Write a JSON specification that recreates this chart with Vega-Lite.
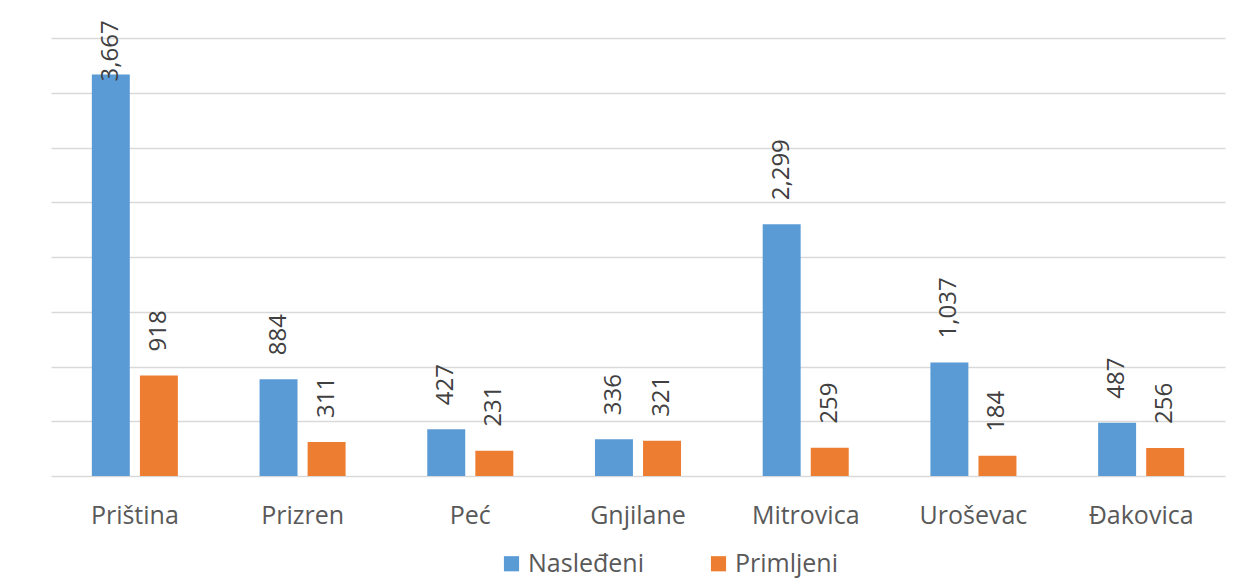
{
  "$schema": "https://vega.github.io/schema/vega-lite/v6.json",
  "width": 1174,
  "height": 438,
  "autosize": {"type": "none"},
  "padding": {"left": 51, "top": 38, "right": 29, "bottom": 106},
  "background": "white",
  "config": {
    "view": {"stroke": null},
    "font": "Open Sans"
  },
  "data": {
    "values": [
      {"city": "Priština", "series": "Nasleđeni", "v": 3667},
      {"city": "Priština", "series": "Primljeni", "v": 918},
      {"city": "Prizren", "series": "Nasleđeni", "v": 884},
      {"city": "Prizren", "series": "Primljeni", "v": 311},
      {"city": "Peć", "series": "Nasleđeni", "v": 427},
      {"city": "Peć", "series": "Primljeni", "v": 231},
      {"city": "Gnjilane", "series": "Nasleđeni", "v": 336},
      {"city": "Gnjilane", "series": "Primljeni", "v": 321},
      {"city": "Mitrovica", "series": "Nasleđeni", "v": 2299},
      {"city": "Mitrovica", "series": "Primljeni", "v": 259},
      {"city": "Uroševac", "series": "Nasleđeni", "v": 1037},
      {"city": "Uroševac", "series": "Primljeni", "v": 184},
      {"city": "Đakovica", "series": "Nasleđeni", "v": 487},
      {"city": "Đakovica", "series": "Primljeni", "v": 256}
    ]
  },
  "encoding": {
    "x": {
      "field": "city", "type": "nominal", "sort": null,
      "scale": {"paddingInner": 0.487, "paddingOuter": 0.2435},
      "axis": {"title": null, "domain": false, "ticks": false, "labelAngle": 0,
               "labelFontSize": 25, "labelColor": "#595959", "labelPadding": 27, "labelFont": "Open Sans"}
    },
    "xOffset": {"field": "series", "type": "nominal", "scale": {"paddingInner": 0.21, "paddingOuter": 0}},
    "y": {
      "field": "v", "type": "quantitative",
      "scale": {"domain": [0, 4000], "nice": false},
      "axis": {"title": null, "labels": false, "ticks": false, "domain": false,
               "values": [0, 500, 1000, 1500, 2000, 2500, 3000, 3500, 4000],
               "gridColor": "#d9d9d9", "gridWidth": 1.5}
    }
  },
  "layer": [
    {
      "mark": {"type": "bar"},
      "encoding": {
        "color": {
          "field": "series", "type": "nominal",
          "scale": {"domain": ["Nasleđeni", "Primljeni"], "range": ["#5B9BD5", "#ED7D31"]},
          "legend": {"title": null, "orient": "none", "legendX": 448, "legendY": 513, "direction": "horizontal",
                     "symbolType": "square", "symbolSize": 230, "symbolStrokeWidth": 0,
                     "labelFontSize": 25, "labelColor": "#595959", "labelFont": "Open Sans",
                     "columnPadding": 62}
        }
      }
    },
    {
      "transform": [{"filter": "datum.v < 3500"}],
      "mark": {"type": "text", "angle": -90, "align": "left", "baseline": "middle", "dx": 24,
               "fontSize": 24, "color": "#404040", "font": "Open Sans"},
      "encoding": {"text": {"field": "v", "type": "quantitative", "format": ","}}
    },
    {
      "transform": [{"filter": "datum.v >= 3500"}],
      "mark": {"type": "text", "angle": -90, "align": "left", "baseline": "middle", "dx": -7,
               "fontSize": 24, "color": "#404040", "font": "Open Sans"},
      "encoding": {"text": {"field": "v", "type": "quantitative", "format": ","}}
    }
  ]
}
